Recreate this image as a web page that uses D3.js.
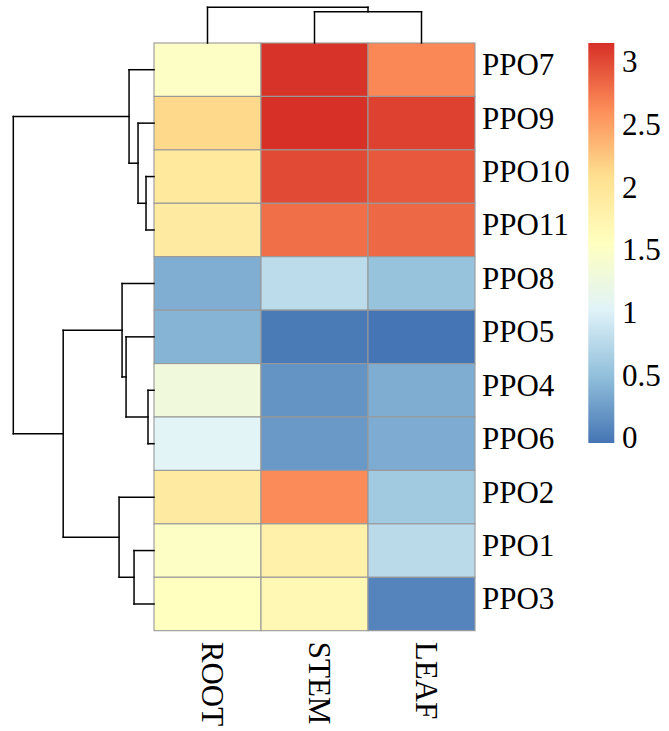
<!DOCTYPE html>
<html><head><meta charset="utf-8">
<script src="https://cdn.jsdelivr.net/npm/d3@7"></script>
</head><body style="margin:0">
<svg id="c" width="669" height="731" style="display:block;background:#fff"></svg>
<script>
const rows = ["PPO7","PPO9","PPO10","PPO11","PPO8","PPO5","PPO4","PPO6","PPO2","PPO1","PPO3"];
const cols = ["ROOT","STEM","LEAF"];
const valROOT = [1.50, 2.13, 1.94, 1.89, 0.37, 0.41, 1.29, 1.05, 1.90, 1.50, 1.55];
const valSTEM = [3.13, 3.15, 3.00, 2.79, 0.79, 0.00, 0.18, 0.22, 2.63, 1.80, 1.68];
const valLEAF = [2.65, 3.05, 2.92, 2.83, 0.53, -0.04, 0.36, 0.35, 0.60, 0.77, 0.07];
const legendTicks = [0, 0.5, 1, 1.5, 2, 2.5, 3];
const palette = ["#4575B4","#91BFDB","#E0F3F8","#FFFFBF","#FEE090","#FC8D59","#D73027"];
// dendrograms: [height, left, right]
const rowTree = [141, [25, "PPO7", [16, "PPO9", [8, "PPO10", "PPO11"]]],
                      [91, [32, "PPO8", [28, "PPO5", [6, "PPO4", "PPO6"]]],
                           [35, "PPO2", [20, "PPO1", "PPO3"]]]];
const colTree = [35.7, "ROOT", [31.3, "STEM", "LEAF"]];

const FONT = "'Liberation Serif', monospace";
const values = [valROOT, valSTEM, valLEAF];
const svg = d3.select("#c");
const hmL = 154, hmR = 475, hmT = 43, hmB = 630.7;
const x = d3.scaleBand().domain(cols).range([hmL, hmR]);
const y = d3.scaleBand().domain(rows).range([hmT, hmB]);
const all = values.flat();
const vmin = d3.min(all), vmax = d3.max(all);
const cStops = palette.map((c, i) => vmin + (vmax - vmin) * i / (palette.length - 1));
const color = d3.scaleLinear().domain(cStops).range(palette).interpolate(d3.interpolateRgb);

// cells
const cells = [];
cols.forEach((c, j) => rows.forEach((r, i) => cells.push({r, c, v: values[j][i]})));
svg.append("g").selectAll("rect").data(cells).join("rect")
  .attr("x", d => x(d.c)).attr("y", d => y(d.r))
  .attr("width", x.bandwidth()).attr("height", y.bandwidth())
  .attr("fill", d => color(d.v)).attr("stroke", "#999999").attr("stroke-width", 1.1);

// row labels
svg.append("g").selectAll("text").data(rows).join("text")
  .attr("x", hmR + 7).attr("y", d => y(d) + y.bandwidth() / 2 + 5.5)
  .attr("font-family", FONT).attr("font-size", 31).text(d => d);

// column labels
svg.append("g").selectAll("text").data(cols).join("text")
  .attr("transform", d => `translate(${x(d) + x.bandwidth() / 2 - 5.5},${hmB + 11}) rotate(90)`)
  .attr("font-family", FONT).attr("font-size", 31).text(d => d);

// dendrogram helper
function layout(node, pos) {
  if (typeof node === "string") return {p: pos(node), h: 0};
  const a = layout(node[1], pos), b = layout(node[2], pos);
  return {p: (a.p + b.p) / 2, h: node[0], kids: [a, b]};
}
function segs(n, out) {
  if (!n.kids) return out;
  n.kids.forEach(k => { out.push({p1: k.p, h1: k.h, p2: k.p, h2: n.h}); segs(k, out); });
  out.push({p1: n.kids[0].p, h1: n.h, p2: n.kids[1].p, h2: n.h});
  return out;
}
const rowH = d3.scaleLinear().domain([0, 141]).range([hmL, 13.3]);
const rl = layout(rowTree, r => y(r) + y.bandwidth() / 2);
const line = svg.append("g").attr("stroke", "#000").attr("stroke-width", 1.5).attr("fill", "none").attr("stroke-linecap", "square");
line.selectAll(".rs").data(segs(rl, [])).join("line")
  .attr("x1", d => rowH(d.h1)).attr("x2", d => rowH(d.h2))
  .attr("y1", d => d.p1).attr("y2", d => d.p2);
const colH = d3.scaleLinear().domain([0, 35.7]).range([hmT, 7.3]);
const cl = layout(colTree, c => x(c) + x.bandwidth() / 2);
line.selectAll(".cs").data(segs(cl, [])).join("line")
  .attr("y1", d => colH(d.h1)).attr("y2", d => colH(d.h2))
  .attr("x1", d => d.p1).attr("x2", d => d.p2);

// legend
const lx = 588.3, lw = 26, lTop = 43, lBot = 443;
const ly = d3.scaleLinear().domain([vmin, vmax]).range([lBot, lTop]);
const defs = svg.append("defs");
const grad = defs.append("linearGradient").attr("id", "g").attr("x1", 0).attr("x2", 0).attr("y1", 1).attr("y2", 0);
palette.forEach((c, i) => grad.append("stop").attr("offset", i / (palette.length - 1)).attr("stop-color", c));
svg.append("rect").attr("x", lx).attr("y", lTop).attr("width", lw).attr("height", lBot - lTop).attr("fill", "url(#g)");
svg.append("g").selectAll("text").data(legendTicks).join("text")
  .attr("x", 622).attr("y", d => ly(d) + 10.5)
  .attr("font-family", FONT).attr("font-size", 31).text(d => d);
</script>
</body></html>
